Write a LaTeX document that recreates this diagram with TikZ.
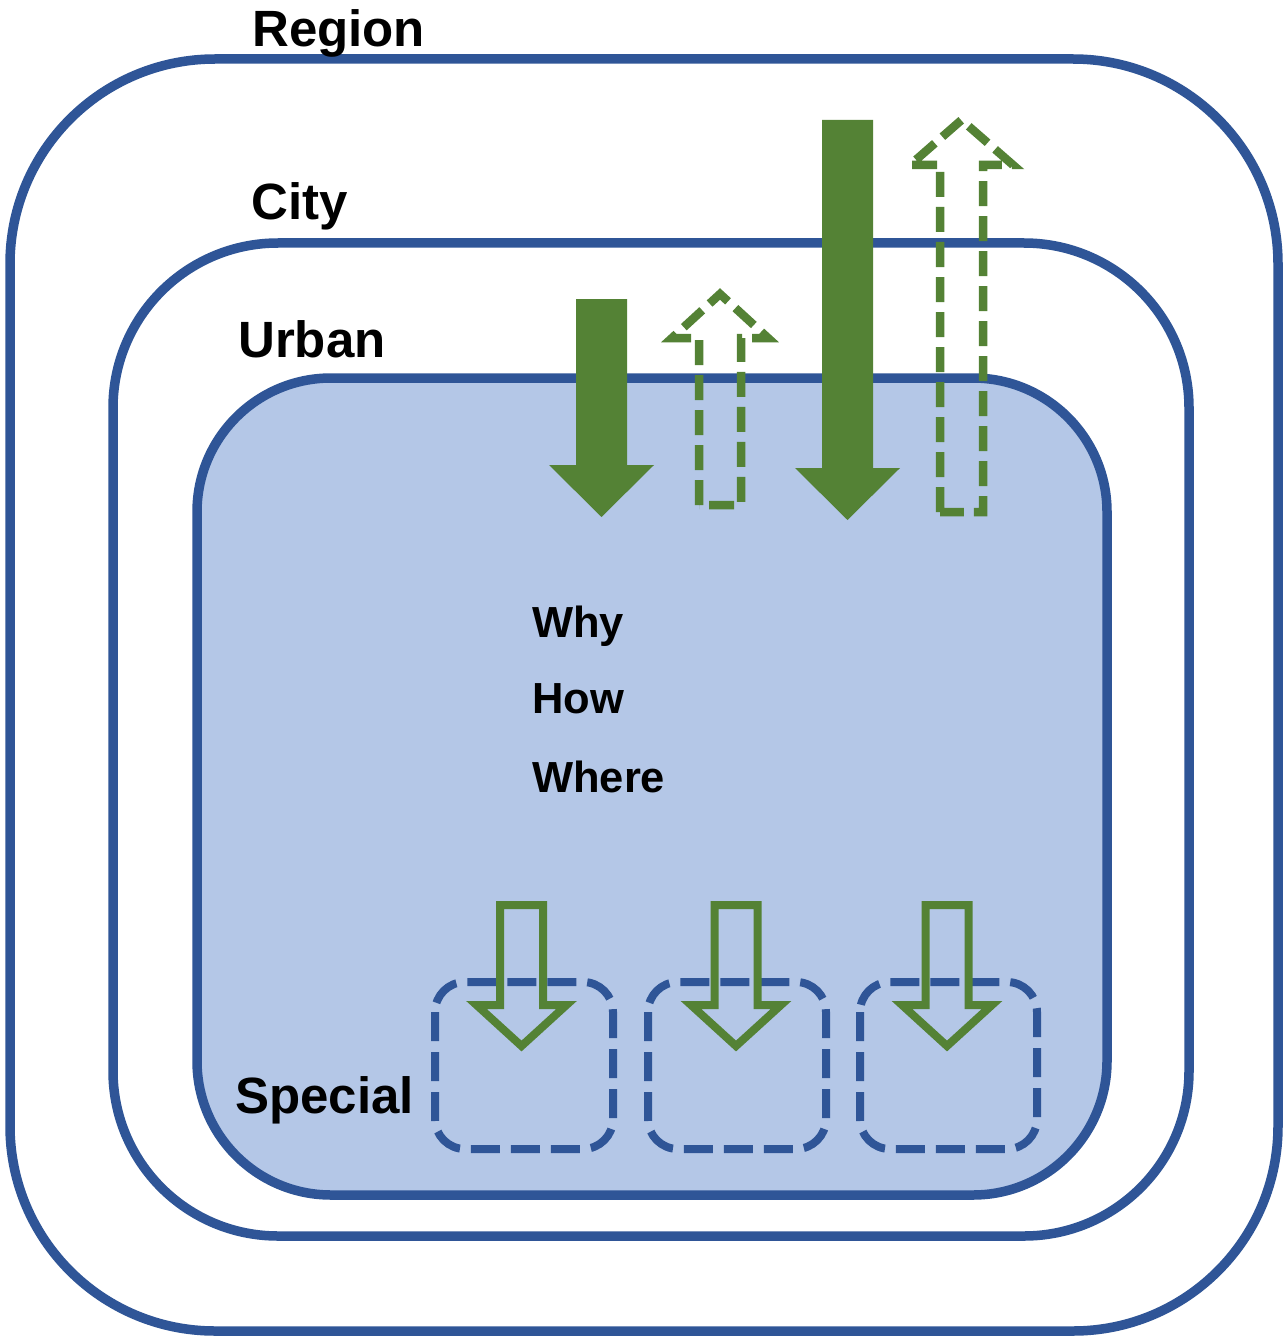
\documentclass[tikz,border=0pt]{standalone}
\usepackage{fontspec}
\setmainfont{Liberation Sans}
\definecolor{boxblue}{HTML}{2F5597}
\definecolor{urbanfill}{HTML}{B4C7E7}
\definecolor{arrgreen}{HTML}{548235}
\tikzset{
  levelbox/.style={draw=boxblue, line width=9.5pt},
  specialbox/.style={draw=boxblue, line width=8pt, dash pattern=on 29pt off 11pt, rounded corners=30pt},
  solidarrow/.style={fill=arrgreen},
  dasharrow/.style={draw=arrgreen, line width=8.5pt, dash pattern=on 25pt off 10pt, line join=miter},
  hollowarrow/.style={draw=arrgreen, line width=8pt, line join=miter},
  biglabel/.style={anchor=base west, inner sep=0pt, font=\fontsize{51}{60}\selectfont\bfseries},
  smalllabel/.style={anchor=base west, inner sep=0pt, font=\fontsize{43.5}{52}\selectfont\bfseries},
}
\begin{document}
\begin{tikzpicture}[x=1pt,y=-1pt]
\useasboundingbox (0,0) rectangle (1287,1340);
\fill[white] (0,0) rectangle (1287,1340);
% level boxes
\draw[levelbox, rounded corners=205pt] (10,59) rectangle (1278,1331);
\draw[levelbox, rounded corners=165pt] (113,243) rectangle (1189,1236);
\draw[levelbox, fill=urbanfill, rounded corners=134pt] (197,378) rectangle (1107,1195);
% special boxes
\draw[specialbox] (435,982) rectangle (613,1149);
\draw[specialbox] (648,982) rectangle (826,1149);
\draw[specialbox] (860,982) rectangle (1037,1149);
% solid down arrows
\fill[solidarrow] (576,299) -- (627,299) -- (627,465) -- (654,465) -- (601.5,517) -- (549,465) -- (576,465) -- cycle;
\fill[solidarrow] (822,120) -- (873,120) -- (873,468) -- (900,468) -- (847.5,520) -- (795,468) -- (822,468) -- cycle;
% dashed up arrows
\draw[dasharrow] (699,505) -- (699,338) -- (672,338) -- (720,294) -- (768,338) -- (741,338) -- (741,505) -- cycle;
\draw[dasharrow] (940,512) -- (940,165) -- (910,165) -- (961.5,120) -- (1013,165) -- (983,165) -- (983,512) -- cycle;
% hollow down arrows
\foreach \c in {521.5,736,947}{
  \draw[hollowarrow] (\c-21.5,905) -- (\c+21.5,905) -- (\c+21.5,1005) -- (\c+45,1005) -- (\c,1046) -- (\c-45,1005) -- (\c-21.5,1005) -- cycle;
}
% labels
\node[biglabel] (region) at (252,47) {Region};
\node[biglabel] (city) at (251,220) {City};
\node[biglabel] (urban) at (238,357) {Urban};
\node[biglabel] (special) at (235,1113) {Special};
\node[smalllabel] (why) at (532,637) {Why};
\node[smalllabel] (how) at (532,713) {How};
\node[smalllabel] (where) at (532,792) {Where};
\end{tikzpicture}
\end{document}
